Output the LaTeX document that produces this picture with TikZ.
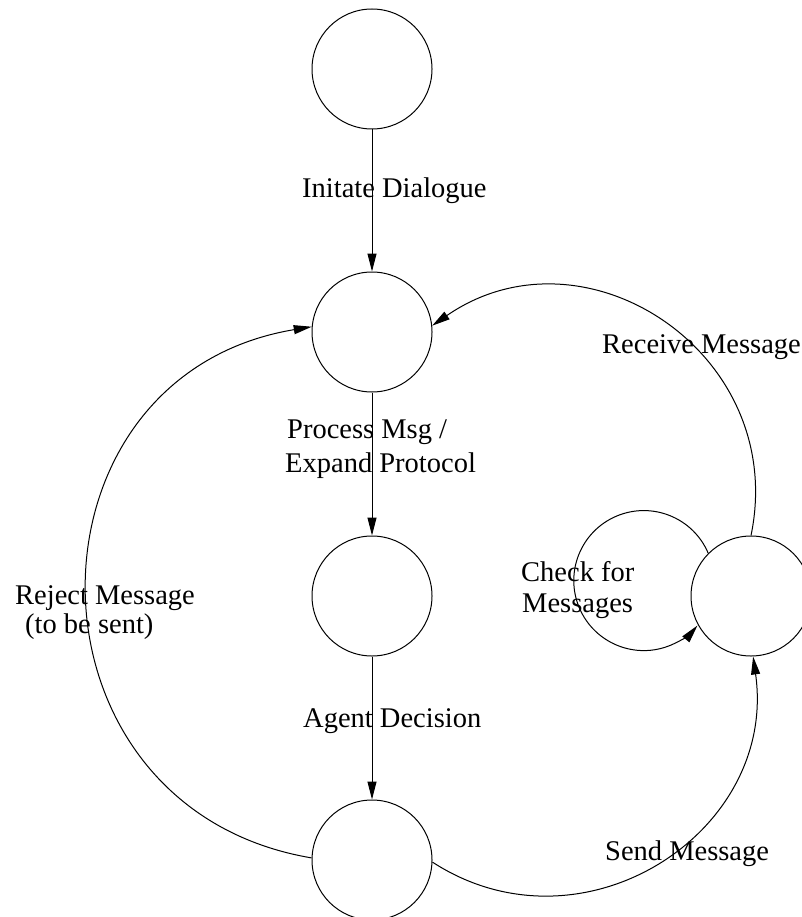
\documentclass[tikz,border=0pt]{standalone}
\usepackage{fontspec}
\setmainfont{Liberation Serif}
\usetikzlibrary{arrows.meta}
\begin{document}
\begin{tikzpicture}[x=1pt,y=-1pt,
  state/.style={draw, circle, minimum size=120pt, inner sep=0pt, line width=1pt},
  edge/.style={line width=1pt, -{Triangle[length=18pt,width=9pt]}},
  lbl/.style={anchor=base west, inner sep=0pt, font=\fontsize{28.5}{34}\selectfont}]
\useasboundingbox (0,0) rectangle (802,917);

% states
\node[state] (a) at (372,69) {};
\node[state] (b) at (372,332) {};
\node[state] (c) at (372,596) {};
\node[state] (d) at (372,860) {};
\node[state] (r) at (751,596) {};

% straight transitions
\draw[edge] (a) -- (b);
\draw[edge] (b) -- (c);
\draw[edge] (c) -- (d);

% curved transitions
\draw[edge] (r.north) .. controls +(37.7,-181.9) and +(152.9,-105.5) .. (b.6);
\draw[edge] (d.178) .. controls +(-299,-50.6) and +(-299,49.7) .. (b.175);
\draw[edge] (d.-2) .. controls +(149.7,97.2) and +(24.8,176.6) .. (r.-88);
\draw[edge] (r.135) arc[start angle=23, end angle=320, radius=70pt];

% labels
\node[lbl] (la) at (302,198) {Initate Dialogue};
\node[lbl] (lb1) at (287,438) {Process Msg /};
\node[lbl] (lb2) at (285,472) {Expand Protocol};
\node[lbl] (lc) at (303,727) {Agent Decision};
\node[lbl] (lr1) at (15,604) {Reject Message};
\node[lbl] (lr2) at (25,633) {(to be sent)};
\node[lbl] (lk1) at (521,581) {Check for};
\node[lbl] (lk2) at (522,612) {Messages};
\node[lbl] (lrec) at (602,353) {Receive Message};
\node[lbl] (lsend) at (605,860) {Send Message};
\end{tikzpicture}
\end{document}
